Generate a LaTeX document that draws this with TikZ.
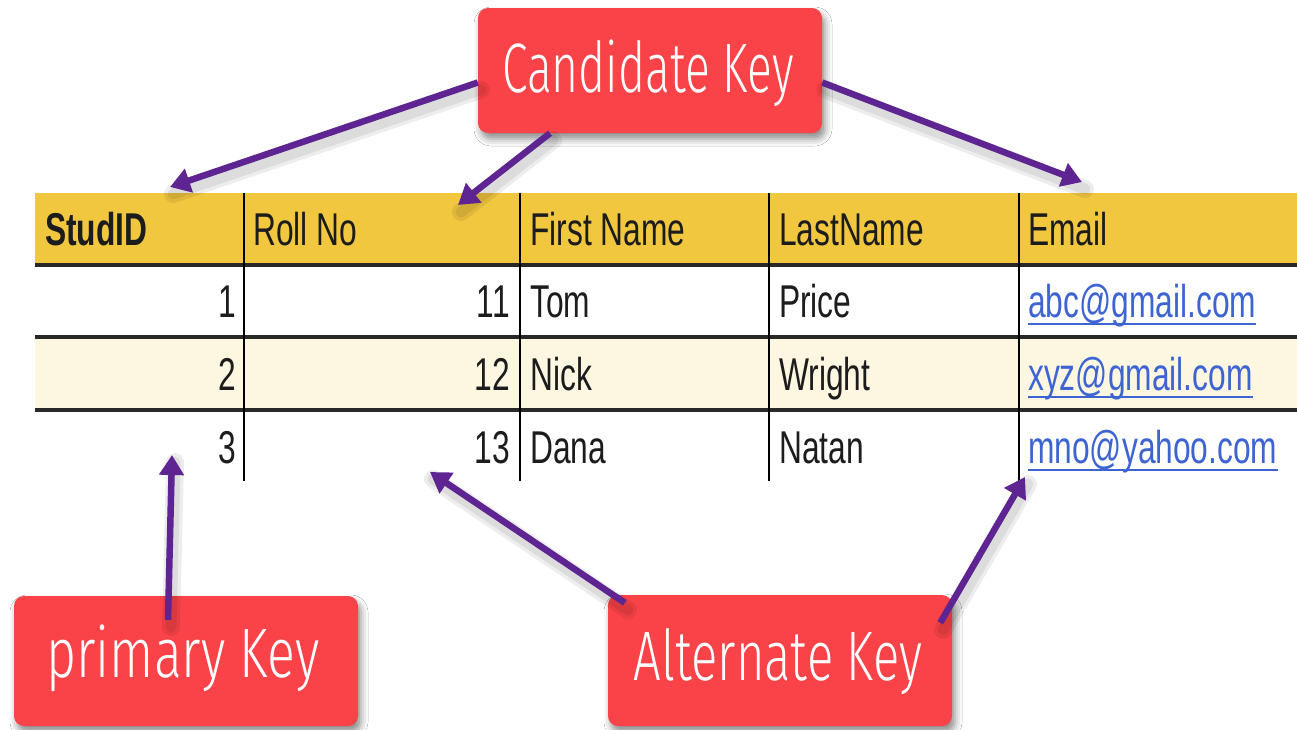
\documentclass[tikz,border=0pt]{standalone}
\usepackage{fontspec}
\setmainfont{Liberation Sans}
\newfontfamily\tabfont[FakeStretch=0.69]{Liberation Sans}
% light, narrow face for the hand-lettered key labels
\IfFontExistsTF{Fira Sans Light}{%
  \newfontfamily\keyfont[FakeStretch=0.70]{Fira Sans Light}%
  \newfontfamily\keyfontnarrow[FakeStretch=0.66]{Fira Sans Light}%
  \newfontfamily\keyfontwide[FakeStretch=0.74]{Fira Sans Light}%
}{%
  \newfontfamily\keyfont[FakeStretch=0.72]{Liberation Sans}%
  \newfontfamily\keyfontnarrow[FakeStretch=0.68]{Liberation Sans}%
  \newfontfamily\keyfontwide[FakeStretch=0.76]{Liberation Sans}%
}
\usetikzlibrary{arrows.meta,shadows.blur}

\definecolor{hdryellow}{RGB}{241,199,64}
\definecolor{rowcream}{RGB}{253,247,226}
\definecolor{keyred}{RGB}{250,67,72}
\definecolor{keypurple}{RGB}{94,36,145}
\definecolor{linkblue}{RGB}{62,100,210}
\definecolor{inkdark}{RGB}{28,28,28}
\definecolor{rulegray}{RGB}{40,40,40}

\tikzset{
  cell/.style={inner sep=0pt, text=inkdark, font=\tabfont\fontsize{46}{50}\selectfont},
  numcell/.style={cell, anchor=base east},
  txtcell/.style={cell, anchor=base west},
  linkcell/.style={txtcell, text=linkblue},
  keybox/.style={rectangle, rounded corners=10pt, fill=keyred, draw=none, inner sep=0pt,
    minimum width=344pt,
    blur shadow={shadow xshift=3pt, shadow yshift=-6pt, shadow blur radius=7pt, shadow opacity=45}},
  keytext/.style={inner sep=0pt, anchor=base, text=white},
  keyarrow/.style={draw=keypurple, line width=6.5pt, -{Triangle[length=20pt,width=24pt]}},
  arrowshade/.style={draw=black, line width=#1, opacity=0.07, line cap=round,
    transform canvas={xshift=3pt,yshift=-7pt}},
  linkline/.style={draw=linkblue, line width=2.5pt},
}

\begin{document}
\begin{tikzpicture}[x=1pt,y=-1pt]
\useasboundingbox (0,0) rectangle (1297,729);
\fill[white] (0,0) rectangle (1297,729);

% table background bands
\fill[hdryellow] (35,193) rectangle (1297,265);
\fill[rowcream] (35,337) rectangle (1297,410);

% table rules
\draw[rulegray, line width=4pt] (35,265) -- (1297,265);
\draw[rulegray, line width=3.5pt] (35,337) -- (1297,337);
\draw[rulegray, line width=3.5pt] (35,410) -- (1297,410);
\foreach \cx in {244,520,769,1019}
  \draw[black, line width=2pt] (\cx,193) -- (\cx,481);

% header row
\node[txtcell, font=\tabfont\bfseries\fontsize{46}{50}\selectfont] (hid) at (45,245) {StudID};
\node[txtcell] (hroll) at (253,245) {Roll No};
\node[txtcell] (hfirst) at (530,245) {First Name};
\node[txtcell] (hlast) at (779,245) {LastName};
\node[txtcell] (hmail) at (1028,245) {Email};

% data rows
\node[numcell] (id1) at (236,317) {1};
\node[numcell] (roll1) at (510,317) {11};
\node[txtcell] (first1) at (530,317) {Tom};
\node[txtcell] (last1) at (779,317) {Price};
\node[linkcell] (mail1) at (1028,317) {abc@gmail.com};

\node[numcell] (id2) at (236,390) {2};
\node[numcell] (roll2) at (510,390) {12};
\node[txtcell] (first2) at (530,390) {Nick};
\node[txtcell] (last2) at (779,390) {Wright};
\node[linkcell] (mail2) at (1028,390) {xyz@gmail.com};

\node[numcell] (id3) at (236,463) {3};
\node[numcell] (roll3) at (510,463) {13};
\node[txtcell] (first3) at (530,463) {Dana};
\node[txtcell] (last3) at (779,463) {Natan};
\node[linkcell] (mail3) at (1028,463) {mno@yahoo.com};

% link underlines
\foreach \m in {mail1,mail2,mail3}
  \draw[linkline] ([yshift=-7pt]\m.base west) -- ([yshift=-7pt]\m.base east);

% key label boxes
\node[keybox, minimum height=125pt] (cand) at (650,70.5) {};
\node[keybox, minimum height=130pt] (prim) at (186,661) {};
\node[keybox, minimum height=131pt] (alt) at (780,660.5) {};

\node[keytext, font=\keyfontnarrow\fontsize{70}{74}\selectfont] (candtxt) at (648,92) {Candidate Key};
\node[keytext, font=\keyfontwide\fontsize{70}{74}\selectfont] (primtxt) at (183,677) {primary Key};
\node[keytext, font=\keyfont\fontsize{70}{74}\selectfont] (alttxt) at (778,680) {Alternate Key};

% arrow targets
\coordinate (tipA) at (170,187);
\coordinate (tipB) at (458,205);
\coordinate (tipC) at (1082,182);
\coordinate (tipD) at (172,455);
\coordinate (tipE) at (430,472);
\coordinate (tipF) at (1025,477);

% soft shadows under the arrows
\foreach \w in {18pt,11pt}{
  \draw[arrowshade=\w] ([yshift=-12pt]cand.west) -- (tipA);
  \draw[arrowshade=\w] ([xshift=-100pt]cand.south) -- (tipB);
  \draw[arrowshade=\w] ([yshift=-12pt]cand.east) -- (tipC);
  \draw[arrowshade=\w] ([xshift=-18pt,yshift=-24pt]prim.north) -- (tipD);
  \draw[arrowshade=\w] ([xshift=17pt,yshift=-8pt]alt.north west) -- (tipE);
  \draw[arrowshade=\w] ([xshift=-12pt,yshift=-28pt]alt.north east) -- (tipF);
}

% arrows
\draw[keyarrow] ([yshift=-12pt]cand.west) -- (tipA);
\draw[keyarrow] ([xshift=-100pt]cand.south) -- (tipB);
\draw[keyarrow] ([yshift=-12pt]cand.east) -- (tipC);
\draw[keyarrow] ([xshift=-18pt,yshift=-24pt]prim.north) -- (tipD);
\draw[keyarrow] ([xshift=17pt,yshift=-8pt]alt.north west) -- (tipE);
\draw[keyarrow] ([xshift=-12pt,yshift=-28pt]alt.north east) -- (tipF);
\end{tikzpicture}
\end{document}
